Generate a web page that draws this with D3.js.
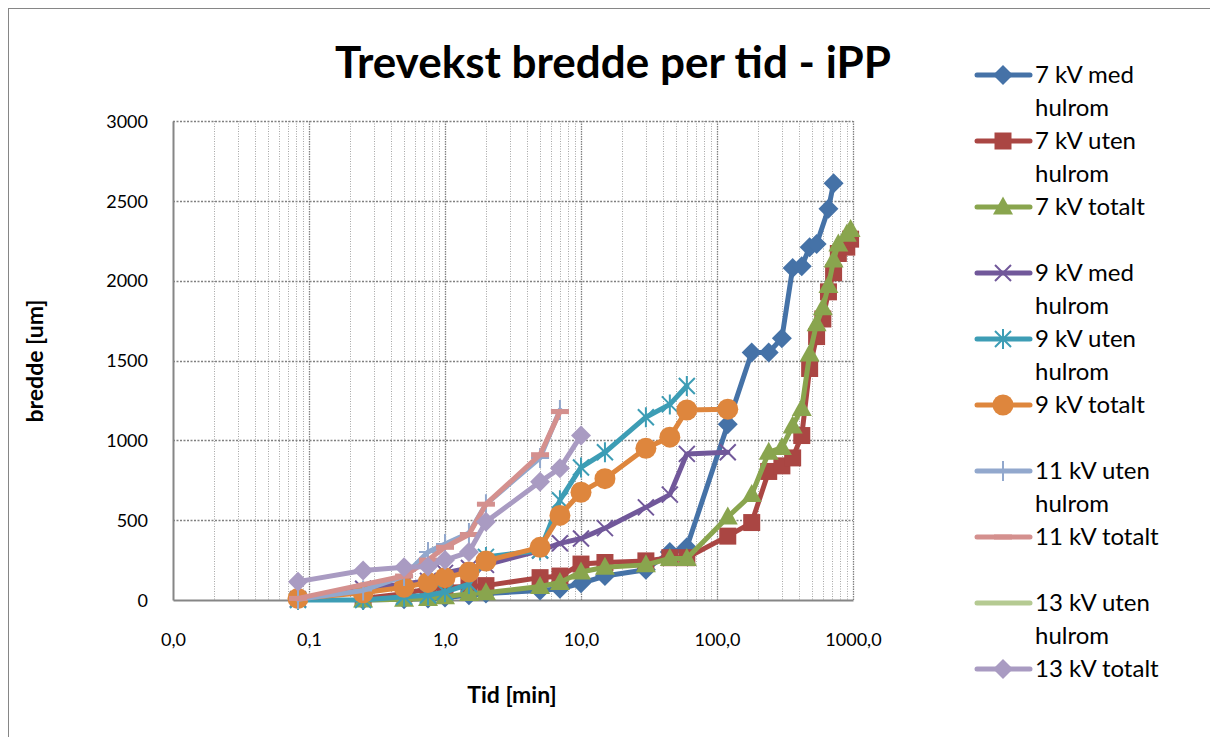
<!DOCTYPE html>
<html>
<head>
<meta charset="utf-8">
<script src="https://cdn.jsdelivr.net/npm/d3@7"></script>
<style>
  body { margin: 0; background: #fff; }
  text { font-family: Lato, "Open Sans", sans-serif; fill: #000; }
</style>
</head>
<body>
<div id="chart"></div>
<script>
// data (time in minutes, width in um)
var seriesNames = ["7 kV med hulrom", "7 kV uten hulrom", "7 kV totalt", "",
  "9 kV med hulrom", "9 kV uten hulrom", "9 kV totalt", "",
  "11 kV uten hulrom", "11 kV totalt", "",
  "13 kV uten hulrom", "13 kV totalt"];

var x7med = [0.25,0.5,0.75,1,1.5,2,5,7,10,15,30,45,60,120,180,240,300,360,420,480,540,660,720];
var y7med = [0,5,10,15,30,40,60,70,105,150,190,300,330,1100,1550,1550,1640,2080,2090,2210,2230,2450,2610];

var x7uten = [0.25,0.5,0.75,1,1.5,2,5,7,10,15,30,45,60,120,180,240,300,360,420,480,540,600,660,720,780,900,960];
var y7uten = [10,40,70,80,85,90,140,150,225,235,245,265,265,400,485,805,840,890,1030,1450,1650,1760,1930,2050,2170,2210,2260];

var x7tot = [0.25,0.5,0.75,1,1.5,2,5,7,10,15,30,45,60,120,180,240,300,360,420,480,540,600,660,720,780,900,960];
var y7tot = [0,5,10,20,40,45,85,110,175,205,220,260,260,520,660,925,955,1090,1200,1540,1730,1830,1970,2130,2230,2290,2320];

var x9med = [0.083,0.25,0.5,0.75,1,1.5,2,5,7,10,15,30,45,60,120];
var y9med = [5,70,100,120,170,200,220,310,355,385,450,580,660,915,925];

var x9uten = [0.083,0.25,0.5,0.75,1,1.5,2,5,7,10,15,30,45,60];
var y9uten = [0,0,20,30,50,100,270,310,625,830,925,1145,1225,1340];

var x9tot = [0.083,0.25,0.5,0.75,1,1.5,2,5,7,10,15,30,45,60,120];
var y9tot = [10,45,80,110,140,175,245,330,530,675,760,950,1020,1190,1195];

var x11uten = [0.083,0.25,0.5,0.75,1,1.5,2,5,7];
var y11uten = [5,60,150,300,350,420,600,890,1190];

var x11tot = [0.083,0.5,0.75,1,1.5,2,5,7];
var y11tot = [10,150,250,330,410,600,910,1180];

var x13uten = [];
var y13uten = [];

var x13tot = [0.083,0.25,0.5,0.75,1,1.5,2,5,7,10];
var y13tot = [115,185,205,210,250,300,490,740,825,1030];

var xTicks = [0.01, 0.1, 1, 10, 100, 1000];
var yTicks = [0, 500, 1000, 1500, 2000, 2500, 3000];

var series = [
  {name: seriesNames[0], x: x7med, y: y7med, color: "#4572A7", marker: "diamond"},
  {name: seriesNames[1], x: x7uten, y: y7uten, color: "#AA4643", marker: "square"},
  {name: seriesNames[2], x: x7tot, y: y7tot, color: "#89A54E", marker: "triangle"},
  {name: seriesNames[3], gap: true},
  {name: seriesNames[4], x: x9med, y: y9med, color: "#71589A", marker: "x"},
  {name: seriesNames[5], x: x9uten, y: y9uten, color: "#3D9DB5", marker: "star"},
  {name: seriesNames[6], x: x9tot, y: y9tot, color: "#DE863D", marker: "circle"},
  {name: seriesNames[7], gap: true},
  {name: seriesNames[8], x: x11uten, y: y11uten, color: "#92A8CD", marker: "plus"},
  {name: seriesNames[9], x: x11tot, y: y11tot, color: "#D4908E", marker: "dash"},
  {name: seriesNames[10], gap: true},
  {name: seriesNames[11], x: x13uten, y: y13uten, color: "#B5CA92", marker: "none"},
  {name: seriesNames[12], x: x13tot, y: y13tot, color: "#A99BC2", marker: "diamond"}
];

var width = 1210, height = 737;
var svg = d3.select("#chart").append("svg")
  .attr("width", width)
  .attr("height", height);

// chart area border
svg.append("rect")
  .attr("x", 8.5).attr("y", 8.5)
  .attr("width", 1400).attr("height", 900)
  .attr("fill", "none").attr("stroke", "#868686").attr("stroke-width", 1);

var x = d3.scaleLog().domain([0.01, 1000]).range([173, 853]);
var y = d3.scaleLinear().domain([0, 3000]).range([600, 121]);

// gridlines
var minor = [];
for (var e = -2; e < 3; e++) {
  for (var k = 2; k <= 9; k++) minor.push(k * Math.pow(10, e));
}
svg.append("g").selectAll("line")
  .data(minor)
  .enter().append("line")
  .attr("x1", function(d) { return Math.round(x(d)) + 0.5; })
  .attr("x2", function(d) { return Math.round(x(d)) + 0.5; })
  .attr("y1", y(3000)).attr("y2", y(0))
  .attr("stroke", "#a6a6a6").attr("stroke-width", 1)
  .attr("stroke-dasharray", "1,1.5");

svg.append("g").selectAll("line")
  .data(xTicks.slice(1))
  .enter().append("line")
  .attr("x1", function(d) { return Math.round(x(d)) + 0.5; })
  .attr("x2", function(d) { return Math.round(x(d)) + 0.5; })
  .attr("y1", y(3000)).attr("y2", y(0))
  .attr("stroke", "#808080").attr("stroke-width", 1.3)
  .attr("stroke-dasharray", "1.5,1");

svg.append("g").selectAll("line")
  .data(yTicks.slice(1))
  .enter().append("line")
  .attr("x1", x(0.01)).attr("x2", x(1000))
  .attr("y1", function(d) { return Math.round(y(d)) + 0.5; })
  .attr("y2", function(d) { return Math.round(y(d)) + 0.5; })
  .attr("stroke", "#808080").attr("stroke-width", 1.3)
  .attr("stroke-dasharray", "2,1.5");

// axes
var xAxis = d3.axisBottom(x).tickValues(xTicks).tickSize(0)
  .tickFormat(function(d) { return d3.format(".1f")(d).replace(".", ","); });
var gx = svg.append("g").attr("transform", "translate(0," + y(0) + ")").call(xAxis);
gx.select(".domain").attr("stroke", "#868686").attr("stroke-width", 2);
gx.selectAll("text").attr("font-size", 18).attr("dy", 0).attr("y", 46).attr("font-family", "Lato");

var yAxis = d3.axisLeft(y).tickValues(yTicks).tickSize(0).tickFormat(d3.format("d"));
var gy = svg.append("g").attr("transform", "translate(" + x(0.01) + ",0)").call(yAxis);
gy.select(".domain").attr("stroke", "#868686").attr("stroke-width", 2);
gy.selectAll("text").attr("font-size", 18).attr("x", -25).attr("dy", "0.35em").attr("font-family", "Lato");

// markers
function markerPath(type) {
  switch (type) {
    case "diamond": return "M0,-10L10,0L0,10L-10,0Z";
    case "square": return "M-8.5,-8.5H8.5V8.5H-8.5Z";
    case "triangle": return "M0,-10.5L10,7.5H-10Z";
    case "dash": return "M-9,-2.5H9V2.5H-9Z";
    default: return null;
  }
}

function drawMarker(sel, type, color) {
  if (type === "circle") {
    sel.append("circle").attr("r", 10.5).attr("fill", color);
  } else if (type === "x") {
    sel.append("path").attr("d", "M-8,-8L8,8M-8,8L8,-8")
      .attr("stroke", color).attr("stroke-width", 2).attr("fill", "none");
  } else if (type === "star") {
    sel.append("path").attr("d", "M-8,-8L8,8M-8,8L8,-8M0,-10V10")
      .attr("stroke", color).attr("stroke-width", 2).attr("fill", "none");
  } else if (type === "plus") {
    sel.append("path").attr("d", "M-9,0H9M0,-10V10")
      .attr("stroke", color).attr("stroke-width", 2).attr("fill", "none");
  } else if (markerPath(type)) {
    sel.append("path").attr("d", markerPath(type)).attr("fill", color);
  }
}

var line = d3.line()
  .x(function(d) { return x(d[0]); })
  .y(function(d) { return y(d[1]); });

series.forEach(function(s) {
  if (s.gap) return;
  var pts = s.x.map(function(v, i) { return [v, s.y[i]]; });
  var g = svg.append("g");
  g.append("path")
    .datum(pts)
    .attr("d", line)
    .attr("fill", "none")
    .attr("stroke", s.color)
    .attr("stroke-width", 5)
    .attr("stroke-linejoin", "round")
    .attr("stroke-linecap", "round");
  g.selectAll(".m")
    .data(pts)
    .enter().append("g")
    .attr("transform", function(d) { return "translate(" + x(d[0]) + "," + y(d[1]) + ")"; })
    .each(function() { drawMarker(d3.select(this), s.marker, s.color); });
});

// title
svg.append("text")
  .attr("x", 613).attr("y", 78)
  .attr("text-anchor", "middle")
  .attr("font-size", 44).attr("font-weight", "bold")
  .text("Trevekst bredde per tid - iPP");

svg.append("text")
  .attr("x", 512).attr("y", 703)
  .attr("text-anchor", "middle")
  .attr("font-size", 23).attr("font-weight", "bold")
  .text("Tid [min]");

svg.append("text")
  .attr("transform", "translate(43,361) rotate(-90)")
  .attr("text-anchor", "middle")
  .attr("font-size", 23).attr("font-weight", "bold")
  .text("bredde [um]");

// legend
var legend = svg.append("g");
var ly = 75, lineH = 33;
series.forEach(function(s) {
  if (s.gap) { ly += lineH; return; }
  var parts = s.name.split(" hulrom");
  var lines = parts.length > 1 ? [parts[0], "hulrom"] : [s.name];
  var g = legend.append("g").attr("transform", "translate(0," + ly + ")");
  g.append("line")
    .attr("x1", 977).attr("x2", 1030)
    .attr("stroke", s.color).attr("stroke-width", 5)
    .attr("stroke-linecap", "round");
  var mg = g.append("g").attr("transform", "translate(1003,0)");
  drawMarker(mg, s.marker, s.color);
  lines.forEach(function(t, i) {
    g.append("text")
      .attr("x", 1035).attr("y", i * lineH)
      .attr("dy", "0.35em")
      .attr("font-size", 24)
      .text(t);
  });
  ly += lines.length * lineH;
});
</script>
</body>
</html>
